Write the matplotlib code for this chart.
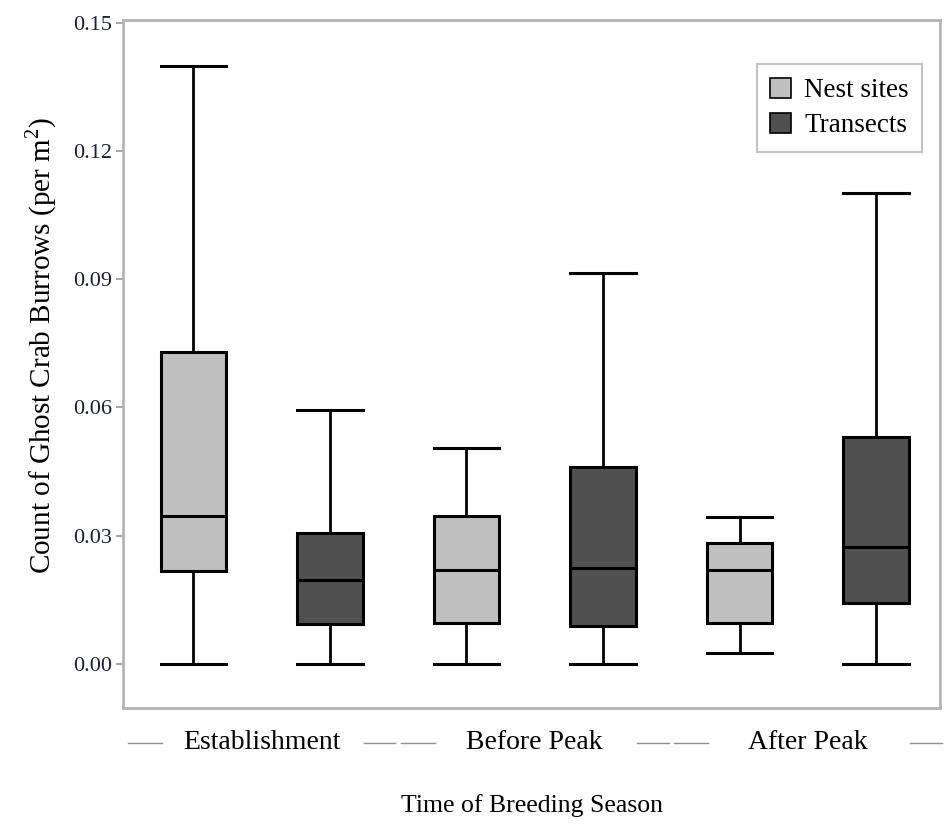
import numpy as np
import matplotlib
matplotlib.use("Agg")
from matplotlib import pyplot as plt
from matplotlib.patches import Patch

plt.rcParams['font.family'] = ['Liberation Serif', 'DejaVu Serif']
plt.rcParams['mathtext.fontset'] = 'custom'
plt.rcParams['mathtext.rm'] = 'Liberation Serif'

groups = ['Establishment', 'Before Peak', 'After Peak']
series = ['Nest sites', 'Transects']
colors = ['#c0c0c0', '#505050']

# per box: whislo, q1, median, q3, whishi (order: group x series)
whislo = [0.0, 0.0, 0.0, 0.0, 0.0026, 0.0]
q1 = [0.0218, 0.0094, 0.0096, 0.0089, 0.0096, 0.0143]
med = [0.0346, 0.0197, 0.0220, 0.0225, 0.0220, 0.0274]
q3 = [0.0730, 0.0307, 0.0346, 0.0461, 0.0283, 0.0531]
whishi = [0.1400, 0.0594, 0.0506, 0.0915, 0.0344, 0.1102]

yticks = [0.00, 0.03, 0.06, 0.09, 0.12, 0.15]


def main():
    fig = plt.figure(figsize=(9.48, 8.24), dpi=100)
    ax = fig.add_axes([0.130, 0.141, 0.862, 0.835])

    stats = []
    for i in range(len(med)):
        stats.append(dict(whislo=whislo[i], q1=q1[i], med=med[i],
                          q3=q3[i], whishi=whishi[i], fliers=[]))
    pos = np.arange(1, len(med) + 1)
    bp = ax.bxp(stats, positions=pos, widths=0.48, patch_artist=True,
                showfliers=False,
                boxprops=dict(linewidth=2.2, edgecolor='black'),
                medianprops=dict(color='black', linewidth=2.2),
                whiskerprops=dict(color='black', linewidth=2.0),
                capprops=dict(color='black', linewidth=2.2),
                capwidths=0.48)
    for i, b in enumerate(bp['boxes']):
        b.set_facecolor(colors[i % 2])

    ax.set_xlim(0.487, 6.47)
    ax.set_ylim(-0.0103, 0.1507)
    ax.set_yticks(yticks)
    ax.set_yticklabels(['%.2f' % t for t in yticks], fontsize=16,
                       color='#1c1c40')
    ax.tick_params(axis='y', direction='out', length=5, color='#a8a8a8',
                   width=1.5, pad=3)
    ax.set_xticks([])
    for s in ax.spines.values():
        s.set_color('#b4b4b4')
        s.set_linewidth(2)

    # group labels with side dashes
    trans = ax.get_xaxis_transform()
    for g, name in enumerate(groups):
        c = 2 * g + 1.5
        ax.text(c, -0.05, name, transform=trans, ha='center', va='center',
                fontsize=20)
        lo, hi = c - 1, c + 1
        for x0, x1 in [(lo + 0.02, lo + 0.27), (hi - 0.25, hi - 0.02)]:
            ax.plot([x0, x1], [-0.051, -0.051], transform=trans,
                    color='#909090', lw=1, clip_on=False)

    ax.set_xlabel('Time of Breeding Season', fontsize=18.5, labelpad=62)
    ax.set_ylabel('Count of Ghost Crab Burrows (per m$^{2}$)', fontsize=21,
                  labelpad=10)
    ax.yaxis.label.set_y(0.527)

    handles = [Patch(facecolor=colors[k], edgecolor='black', linewidth=1.2)
               for k in range(2)]
    leg = ax.legend(handles, series, loc='upper right', fontsize=19.5,
                    bbox_to_anchor=(0.978, 0.935), fancybox=False,
                    handlelength=0.75, handleheight=0.75, handletextpad=0.5,
                    borderpad=0.5, labelspacing=0.35, borderaxespad=0)
    leg.get_frame().set_edgecolor('#b4b4b4')
    leg.get_frame().set_linewidth(1.5)

    fig.savefig('out.png', dpi=100)


if __name__ == "__main__":
    main()
